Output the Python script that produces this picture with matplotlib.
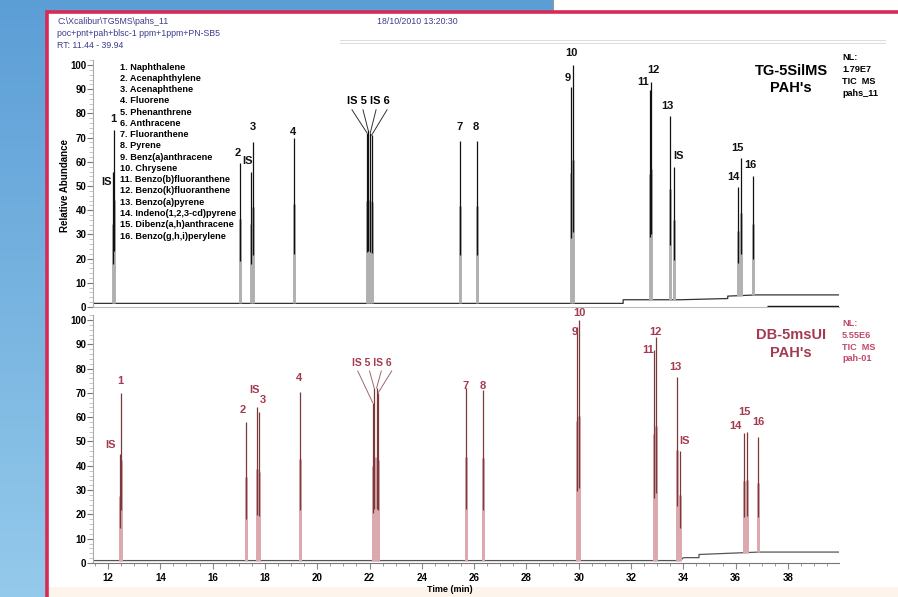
import numpy as np
import matplotlib
matplotlib.use("Agg")
import matplotlib.pyplot as plt
from matplotlib.patches import Rectangle
from matplotlib.ticker import MultipleLocator

plt.rcParams['font.family'] = ['Liberation Sans', 'DejaVu Sans']

# compound key
compounds = ["Naphthalene", "Acenaphthylene", "Acenaphthene", "Fluorene",
             "Phenanthrene", "Anthracene", "Fluoranthene", "Pyrene",
             "Benz(a)anthracene", "Chrysene", "Benzo(b)fluoranthene",
             "Benzo(k)fluoranthene", "Benzo(a)pyrene", "Indeno(1,2,3-cd)pyrene",
             "Dibenz(a,h)anthracene", "Benzo(g,h,i)perylene"]

# TG-5SilMS run: retention time (min) and relative abundance
tg_rt = [12.19, 12.24, 17.04, 17.47, 17.56, 19.11, 21.90, 21.95, 22.03, 22.08,
         25.46, 26.10, 29.69, 29.79, 32.73, 32.78, 33.49, 33.64, 36.10, 36.19, 36.65]
tg_ab = [56, 73, 59.5, 56, 68, 70, 72, 73, 72, 71,
         68.5, 68.5, 91, 100, 89.5, 93, 79, 58, 49.5, 61.5, 54]
tg_base_rt = [11.44, 31.70, 31.70, 33.90, 35.70, 35.70, 36.80, 39.94]
tg_base_ab = [1.5, 1.5, 3.0, 3.0, 3.5, 4.5, 5.0, 5.0]

# DB-5msUI run
db_rt = [12.46, 12.50, 17.27, 17.69, 17.77, 19.34, 22.12, 22.18, 22.27, 22.33,
         25.69, 26.33, 29.92, 30.02, 32.88, 32.96, 33.75, 33.87, 36.32, 36.42, 36.87]
db_ab = [45, 70, 58, 64, 62, 70.5, 66, 72, 72, 70,
         72, 71, 97, 100, 87.5, 93, 76.5, 46, 53.5, 54, 52]
db_base_rt = [11.44, 33.90, 34.00, 34.60, 34.60, 36.90, 39.94]
db_base_ab = [1.0, 1.0, 2.2, 2.2, 3.5, 4.5, 4.5]

# peak labels: text, rt, abundance
tg_labels = [("1", 12.19, 77.7), ("IS", 11.96, 51.7), ("2", 16.97, 63.6),
             ("IS", 17.35, 60.3), ("3", 17.54, 74.4), ("4", 19.07, 72.3),
             ("7", 25.46, 74.4), ("8", 26.07, 74.4), ("10", 29.71, 105.0),
             ("9", 29.59, 94.6), ("12", 32.84, 97.9), ("11", 32.46, 93.0),
             ("13", 33.41, 83.1), ("IS", 33.83, 62.4), ("15", 36.09, 65.7),
             ("16", 36.55, 58.7), ("14", 35.90, 53.7)]
db_labels = [("1", 12.46, 74.9), ("IS", 12.08, 48.6), ("2", 17.16, 63.0),
             ("IS", 17.62, 71.2), ("3", 17.93, 67.1), ("4", 19.30, 76.1),
             ("7", 25.69, 72.8), ("8", 26.34, 72.8), ("10", 30.01, 102.9),
             ("9", 29.86, 95.1), ("12", 32.95, 95.1), ("11", 32.65, 87.7),
             ("13", 33.68, 80.7), ("IS", 34.03, 50.2), ("15", 36.32, 62.1),
             ("14", 36.01, 56.4), ("16", 36.89, 58.0)]

W, H = 898, 597
fig = plt.figure(figsize=(W / 100, H / 100), dpi=100)

# desktop backdrop and the window panel, in pixel units
bg = fig.add_axes([0, 0, 1, 1])
bg.set_xlim(0, W)
bg.set_ylim(H, 0)
bg.axis('off')
grad = np.linspace(0, 1, 64)[:, None]
top_c = np.array([0.36, 0.62, 0.84])
bot_c = np.array([0.58, 0.79, 0.92])
img = top_c + grad[..., None] * (bot_c - top_c)
img = np.repeat(img, 4, axis=1)
bg.imshow(img, extent=[0, W, H, 0], aspect='auto', zorder=0)
bg.add_patch(Rectangle((553, -2), 360, 14, facecolor='white', edgecolor='#999999', lw=0.8, zorder=1))
bg.add_patch(Rectangle((47, 12), 900, 600, facecolor='white', edgecolor='#d62a57', lw=2.6, zorder=2))
bg.add_patch(Rectangle((49, 587), 860, 12, facecolor='#fdf4ec', lw=0, zorder=2))
for yy in (40, 43):
    bg.plot([340, 885], [yy, yy], color='#dddddd', lw=0.8, zorder=3)

hdr = dict(fontsize=6.3, color='#3c3c8c', va='center', zorder=4)
bg.text(57, 21, "C:\\Xcalibur\\TG5MS\\pahs_11", **hdr)
bg.text(57, 33, "poc+pnt+pah+blsc-1 ppm+1ppm+PN-SB5", **hdr)
bg.text(57, 45, "RT: 11.44 - 39.94", **hdr)
bg.text(377, 22, "18/10/2010 13:20:30", **hdr)

for i, name in enumerate(compounds):
    bg.text(120, 67 + i * 11.27, f"{i + 1}. {name}", fontsize=6.6,
            fontweight='bold', va='center', zorder=4)

bg.text(791, 71, "TG-5SilMS", fontsize=10.5, fontweight='bold', ha='center', va='center', zorder=4)
bg.text(791, 88, "PAH's", fontsize=10.5, fontweight='bold', ha='center', va='center', zorder=4)
for i, s in enumerate(["NL:", "1.79E7", "TIC  MS", "pahs_11"]):
    bg.text(842, 58 + i * 12, s, fontsize=6.6, fontweight='bold', va='center', zorder=4)

red = '#a33a50'
bg.text(791, 335, "DB-5msUI", fontsize=10.5, fontweight='bold', ha='center', va='center', color=red, zorder=4)
bg.text(791, 353, "PAH's", fontsize=10.5, fontweight='bold', ha='center', va='center', color=red, zorder=4)
for i, s in enumerate(["NL:", "5.55E6", "TIC  MS", "pah-01"]):
    bg.text(842, 324 + i * 11.5, s, fontsize=6.6, fontweight='bold', va='center', color='#c04a68', zorder=4)

bg.text(65, 186, "Relative Abundance", rotation=90, fontsize=7, fontweight='bold', ha='center', va='center', zorder=4)
bg.text(450, 590, "Time (min)", fontsize=6.5, fontweight='bold', ha='center', va='center', zorder=4)


def px_rect(x0, x1, y_top, y_bot):
    return [x0 / W, 1 - y_bot / H, (x1 - x0) / W, (y_bot - y_top) / H]


def setup(ax, show_x):
    ax.set_facecolor('none')
    ax.set_xlim(11.44, 39.94)
    ax.set_ylim(0, 102)
    for s in ('top', 'right'):
        ax.spines[s].set_visible(False)
    ax.spines['left'].set_color('#aaaaaa')
    ax.spines['bottom'].set_color('#777777' if show_x else '#bbbbbb')
    ax.yaxis.set_major_locator(MultipleLocator(10))
    ax.yaxis.set_minor_locator(MultipleLocator(2))
    ax.xaxis.set_major_locator(MultipleLocator(2))
    ax.xaxis.set_minor_locator(MultipleLocator(0.5))
    ax.tick_params(axis='y', which='major', length=4, width=0.8, color='#777777',
                   labelsize=7, pad=1)
    ax.tick_params(axis='y', which='minor', length=3, width=0.6, color='#bbbbbb')
    ax.tick_params(axis='x', which='both', color='#888888', labelsize=7)
    ax.tick_params(axis='x', which='major', length=4)
    ax.tick_params(axis='x', which='minor', length=2)
    for lab in ax.get_yticklabels():
        lab.set_fontweight('bold')
    if show_x:
        for lab in ax.get_xticklabels():
            lab.set_fontweight('bold')
    else:
        ax.tick_params(axis='x', which='both', bottom=False, labelbottom=False)


def draw_run(ax, rts, abund, base_rt, base_ab, line_c, fill_c, base_c):
    ax.plot(base_rt, base_ab, color=base_c, lw=0.9, zorder=2)
    for t, h in zip(rts, abund):
        b = np.interp(t, base_rt, base_ab)
        # wide lower body of the peak, thin apex on top
        ax.vlines(t, b, b + 0.6 * (h - b), color=fill_c, lw=2.1, zorder=3)
        ax.vlines(t, b + 0.3 * (h - b), h, color=line_c, lw=0.9, zorder=4)


def put_labels(ax, labels, color):
    for s, t, v in labels:
        ax.text(t, v, s, fontsize=8, fontweight='bold', color=color,
                ha='center', va='center', zorder=5)


ax1 = fig.add_axes(px_rect(93.4, 838.6, 60.2, 307))
ax2 = fig.add_axes(px_rect(93.4, 838.6, 315.1, 563))
setup(ax1, False)
setup(ax2, True)

draw_run(ax1, tg_rt, tg_ab, tg_base_rt, tg_base_ab, '#111111', '#b0b0b0', '#333333')
ax1.hlines(0.6, 37.2, 39.94, color='#111111', lw=1.0, zorder=2)
put_labels(ax1, tg_labels, '#111111')

draw_run(ax2, db_rt, db_ab, db_base_rt, db_base_ab, '#7a3a3a', '#dba8ad', '#555555')
put_labels(ax2, db_labels, red)

# grouped labels for the IS/5/IS/6 cluster with leader lines
ax1.text(21.94, 85.1, "IS 5 IS 6", fontsize=8, fontweight='bold', ha='center', va='center', zorder=5)
for xs, pk in zip([21.33, 21.75, 22.25, 22.67], [6, 7, 8, 9]):
    ax1.plot([xs, tg_rt[pk]], [81.5, tg_ab[pk]], color='#333333', lw=0.7, zorder=5)

ax2.text(22.10, 82.3, "IS 5 IS 6", fontsize=7.5, fontweight='bold', color=red, ha='center', va='center', zorder=5)
for xs, pk in zip([21.55, 22.00, 22.45, 22.85], [6, 7, 8, 9]):
    ax2.plot([xs, db_rt[pk]], [79.0, db_ab[pk]], color='#9a6a70', lw=0.7, zorder=5)

fig.savefig("out.png", dpi=100)
